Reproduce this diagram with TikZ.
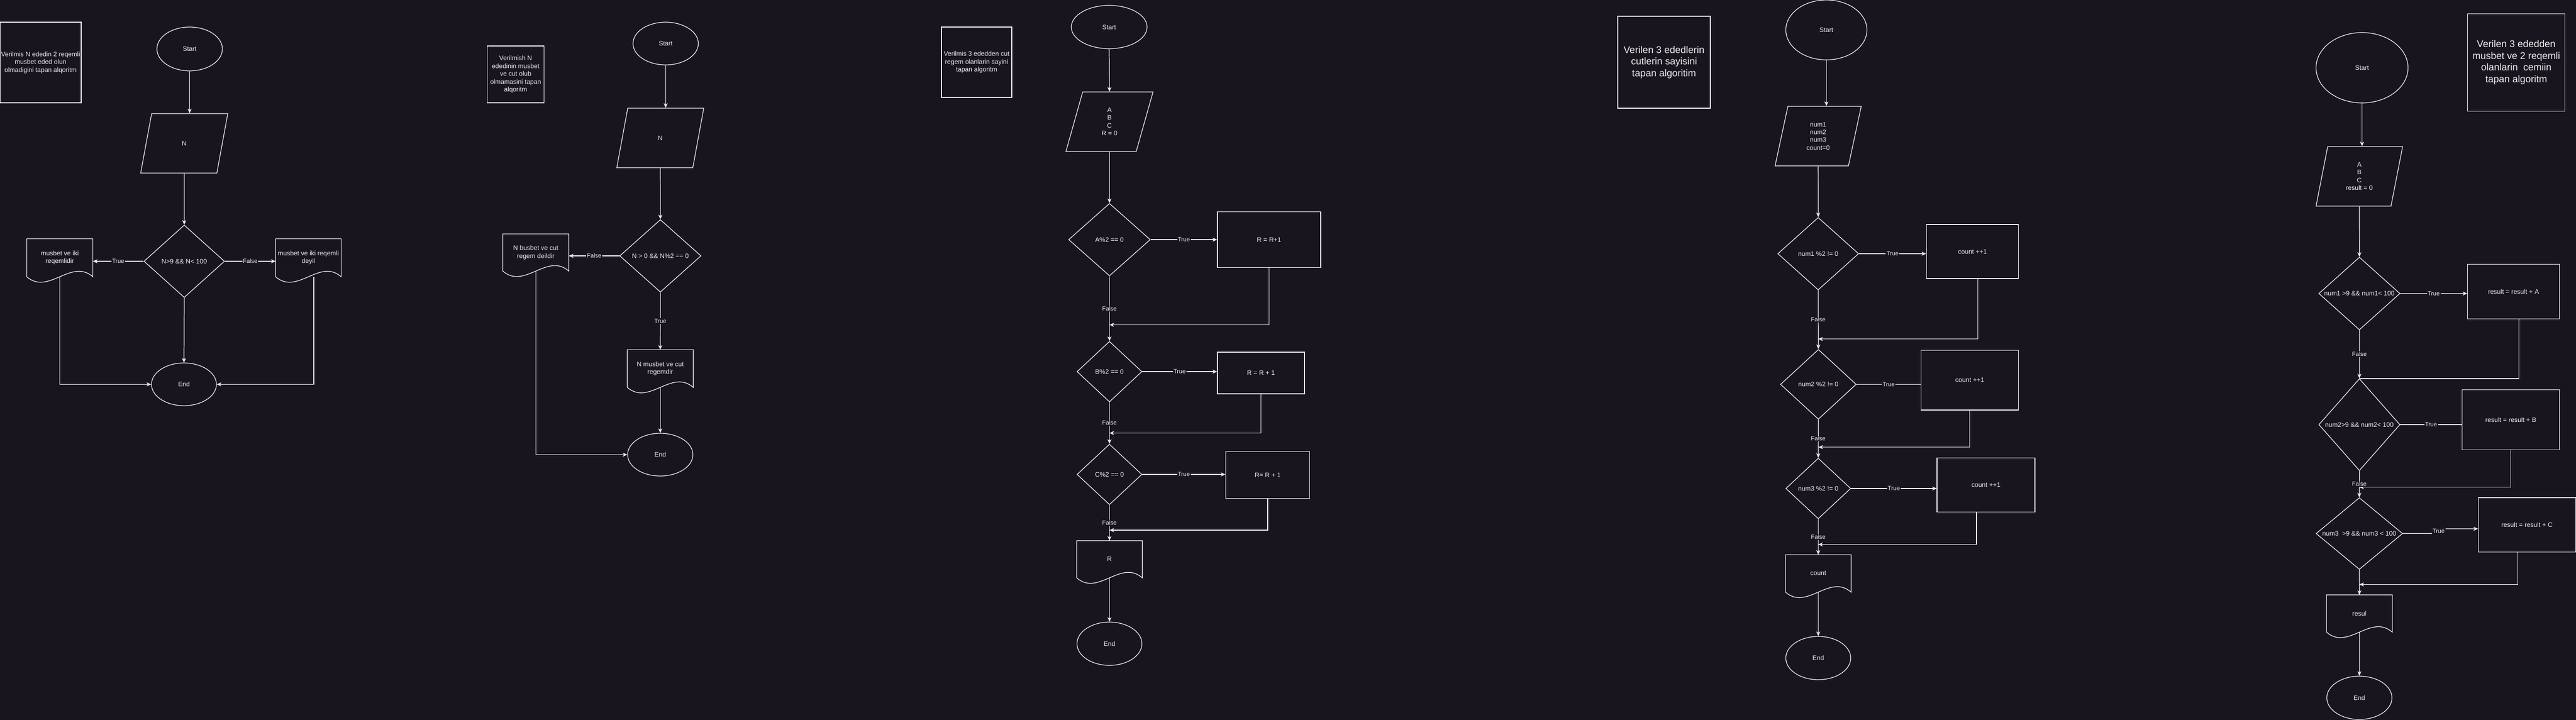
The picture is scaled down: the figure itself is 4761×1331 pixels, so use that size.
\documentclass[tikz,border=0pt]{standalone}
\usepackage{fontspec}
\setmainfont{Liberation Sans}
\usepackage{tikz}
\usetikzlibrary{calc,shapes.geometric,arrows.meta}
\usepackage{xcolor}
\definecolor{bg}{RGB}{24,21,30}
\definecolor{fg}{RGB}{238,238,238}

\begin{document}
\begin{tikzpicture}
[x=0.01cm,y=-0.01cm,>={Stealth[length=2.4pt,width=2.1pt,inset=0.7pt]},color=fg,line width=0.35pt,
font=\fontsize{3.41pt}{4.1pt}\selectfont,
term/.style 2 args={ellipse,draw,inner sep=0pt,minimum width=#1*\pxl,minimum height=#2*\pxl},
io/.style 2 args={trapezium,trapezium left angle=80,trapezium right angle=100,trapezium stretches=true,draw,inner sep=0pt,align=center,minimum width=#1*\pxl,minimum height=#2*\pxl},
cond/.style n args={3}{diamond,draw,inner sep=0pt,aspect=#3,minimum width=#1*\pxl,minimum height=#2*\pxl},
proc/.style 2 args={rectangle,draw,inner sep=0pt,align=center,minimum width=#1*\pxl,minimum height=#2*\pxl},
doc/.style 2 args={rectangle,inner sep=0pt,align=center,minimum width=#1*\pxl,minimum height=#2*\pxl},
note/.style 2 args={rectangle,draw,inner sep=0pt,align=center,minimum width=#1*\pxl,minimum height=#2*\pxl},
lbl/.style={fill=bg,inner sep=0.4pt,font=\fontsize{3.13pt}{3.8pt}\selectfont},
big/.style={font=\fontsize{5.12pt}{6.15pt}\selectfont},
]

\def\pxl{0.01cm}
%document shape: box with wavy bottom
\def\docwave#1{\draw (#1.south west) -- (#1.north west) -- (#1.north east) -- (#1.south east)
  .. controls ($(#1.south west)!0.67!(#1.south east)+(0,-35)$) and ($(#1.south west)!0.33!(#1.south east)+(0,35)$) .. (#1.south west);}

%Background
\fill[bg] (0,0) rectangle (4761,1331);
\useasboundingbox (0,0) rectangle (4761,1331);

%Flowchart 1
\node (t1) at (75,115.5)[note={150}{149}] {Verilmis N ededin 2 reqemli\\musbet eded olun\\olmadigini tapan alqoritm};
\node (s1) at (350.5,90.5)[term={121}{81}] {Start};
\node (i1) at (340.5,265)[io={161}{110}] {N};
\node (c1) at (340.5,483)[cond={149}{134}{1.11}] {N>9 \&\& N< 100};
\node (o1) at (110.5,476.5)[doc={121}{69}] {musbet ve iki\\reqemlidir};
\node (o2) at (570,476.5)[doc={120}{69}] {musbet ve iki reqemli\\deyil};
\node (e1) at (340,710.5)[term={120}{79}] {End};
\docwave{o1}
\docwave{o2}

\draw[->] (s1.south) -- (s1.south |- i1.north);
\draw[->] (i1.south) -- (c1.north);
\draw[->] (c1.west) -- node[lbl]{True} (c1.west -| o1.east);
\draw[->] (c1.east) -- node[lbl]{False} (c1.east -| o2.west);
\draw[->] (c1.south) -- (e1.north);
\draw[->] (o1.south) |- (e1.west);
\draw[->] ([xshift=0.1cm]o2.south) |- (e1.east);

%Flowchart 2
\node (t2) at (953,137.5)[note={105.4}{105}] {Verilmish N\\ededinin musbet\\ve cut olub\\olmamasini tapan\\alqoritm};
\node (s2) at (1230.3,80.5)[term={120.7}{79}] {Start};
\node (i2) at (1220.3,255)[io={160.7}{110}] {N};
\node (c2) at (1220.5,473)[cond={150.4}{134}{1.12}] {N > 0 \&\& N\%2 == 0};
\node (o3) at (990.3,466.75)[doc={120.7}{67.5}] {N busbet ve cut\\regem deildir};
\node (o4) at (1220.3,681.25)[doc={120.7}{68.5}] {N musbet ve cut\\regemdir};
\node (e2) at (1220.3,840.5)[term={120.7}{79}] {End};
\docwave{o3}
\docwave{o4}

\draw[->] (s2.south) -- (s2.south |- i2.north);
\draw[->] (i2.south) -- (c2.north);
\draw[->] (c2.west) -- node[lbl]{False} (c2.west -| o3.east);
\draw[->] (c2.south) -- node[lbl]{True} (o4.north);
\draw[->] (o3.south) |- (e2.west);
\draw[->] (o4.south) -- (e2.north);

%Flowchart 3
\node (t3) at (1805,115)[note={130}{130}] {Verilmis 3 ededden cut\\regem olanlarin sayini\\tapan algoritm};
\node (s3) at (2050,50)[term={140}{80}] {Start};
\node (i3) at (2050.5,225)[io={161}{110}] {A\\B\\C\\R = 0};
\node (c3) at (2050.5,443)[cond={151}{134}{1.13}] {A\%2 == 0};
\node (p1) at (2345.5,443)[proc={191}{103}] {R = R+1};
\node (c4) at (2050.5,687)[cond={120}{112}{1.07}] {B\%2 == 0};
\node (p2) at (2330.5,689.5)[proc={161}{77}] {R = R + 1};
\node (c5) at (2050.5,877)[cond={120}{112}{1.07}] {C\%2 == 0};
\node (p3) at (2343,878)[proc={155}{86.5}] {R= R + 1};
\node (o5) at (2050.5,1033.8)[doc={120}{67.6}] {R};
\node (e3) at (2050.5,1190)[term={120}{80}] {End};
\docwave{o5}
\coordinate (j1) at (2050.5,600.5);
\coordinate (j2) at (2050.5,800.5);
\coordinate (j3) at (2050.5,980);

\draw[->] (s3.south) -- (i3.north);
\draw[->] (i3.south) -- (c3.north);
\draw[->] (c3.east) -- node[lbl]{True} (p1.west);
\draw[->] (p1.south) |- (j1);
\draw[->] (c3.south) -- node[lbl]{False} (c4.north);
\draw[->] (c4.east) -- node[lbl]{True} (c4.east -| p2.west);
\draw[->] (p2.south) |- (j2);
\draw[->] (c4.south) -- node[lbl]{False} (c5.north);
\draw[->] (c5.east) -- node[lbl]{True} (c5.east -| p3.west);
\draw[->] (p3.south) |- (j3);
\draw[->] (c5.south) -- node[lbl]{False} (o5.north);
\draw[->] (o5.south) -- (e3.north);

%Flowchart 4
\node (t4) at (3075.5,115)[note={171}{170},big] {Verilen 3 ededlerin\\cutlerin sayisini\\tapan algoritim};
\node (s4) at (3375.5,55.35)[term={150}{110.7}] {Start};
\node (i4) at (3360.3,251.6)[io={159.4}{110.2}] {num1\\num2\\num3\\count=0};
\node (c6) at (3360.4,469)[cond={149.5}{134}{1.12}] {num1 \%2 != 0};
\node (p4) at (3645.6,465)[proc={170}{100}] {count ++1};
\node (c7) at (3360.7,710.5)[cond={140}{129}{1.09}] {num2 \%2 != 0};
\node (p5) at (3640.5,702.8)[proc={180}{110.5}] {count ++1};
\node (c8) at (3360.5,903)[cond={120}{112}{1.07}] {num3 \%2 != 0};
\node (p6) at (3670.5,896.5)[proc={181}{100}] {count ++1};
\node (o6) at (3360.5,1060)[doc={120}{68}] {count};
\node (e4) at (3360.5,1216.5)[term={120}{80}] {End};
\docwave{o6}
\coordinate (j4) at (3360.4,626.7);
\coordinate (j5) at (3360.7,826.6);
\coordinate (j6) at (3360.5,1006.5);

\draw[->] (s4.south) -- (s4.south |- i4.north);
\draw[->] (i4.south) -- (c6.north);
\draw[->] (c6.east) -- node[lbl]{True} (c6.east -| p4.west);
\draw[->] ([xshift=0.1cm]p4.south) |- (j4);
\draw[->] (c6.south) -- node[lbl]{False} (c7.north);
\draw (c7.east) -- node[lbl]{True} (c7.east -| p5.west);
\draw[->] (p5.south) |- (j5);
\draw[->] (c7.south) -- node[lbl]{False} (c8.north);
\draw[->] (c8.east) -- node[lbl]{True} (c8.east -| p6.west);
\draw[->] ([xshift=-0.175cm]p6.south) |- (j6);
\draw[->] (c8.south) -- node[lbl]{False} (o6.north);
\draw[->] (o6.south) -- (e4.north);

%Flowchart 5
\node (t5) at (4650.5,115.4)[note={180}{180},big] {Verilen 3 ededden\\musbet ve 2 reqemli\\olanlarin~ cemiin\\tapan algoritm};
\node (s5) at (4365.5,125.25)[term={170}{130}] {Start};
\node (i5) at (4360.5,326)[io={160}{110}] {A\\B\\C\\result = 0};
\node (c9) at (4360.6,542.6)[cond={150}{134.4}{1.12}] {num1 >9 \&\& num1< 100};
\node (p7) at (4645.5,539)[proc={170}{100.4}] {result = result + A};
\node (c10) at (4360.6,785)[cond={150}{170}{0.88}] {num2>9 \&\& num2< 100};
\node (p8) at (4640.5,776)[proc={180}{110.5}] {result = result + B};
\node (c11) at (4360.5,986.3)[cond={160}{132.6}{1.21}] {num3~ >9 \&\& num3 < 100};
\node (p9) at (4670.3,970.3)[proc={179.5}{100.5}] {result = result + C};
\node (o7) at (4360.6,1134.2)[doc={120.4}{67.6}] {resul};
\node (e5) at (4360.6,1290)[term={120.4}{80}] {End};
\docwave{o7}
\coordinate (j7) at (4360.6,700);
\coordinate (j8) at (4360.6,900.6);
\coordinate (j9) at (4360.6,1080.4);
\coordinate (k1) at (4498,986.3);
\coordinate (k2) at (4516,977.5);

\draw[->] (s5.south) -- (s5.south |- i5.north);
\draw[->] (i5.south) -- (c9.north);
\draw[->] (c9.east) -- node[lbl]{True} (c9.east -| p7.west);
\draw ([xshift=0.1cm]p7.south) |- (j7);
\draw[->] (c9.south) -- node[lbl]{False} (c10.north);
\draw (c10.east) -- node[lbl]{True} (c10.east -| p8.west);
\draw[->] (p8.south) |- (j8);
\draw[->] (c10.south) -- node[lbl]{False} (c11.north);
\draw[->] (c11.east) -- (k1) -- node[lbl]{True} (k2) -- (k2 -| p9.west);
\draw[->] ([xshift=-0.17cm]p9.south) |- (j9);
\draw[->] (c11.south) -- (o7.north);
\draw[->] (o7.south) -- (e5.north);

\end{tikzpicture}
\end{document}
